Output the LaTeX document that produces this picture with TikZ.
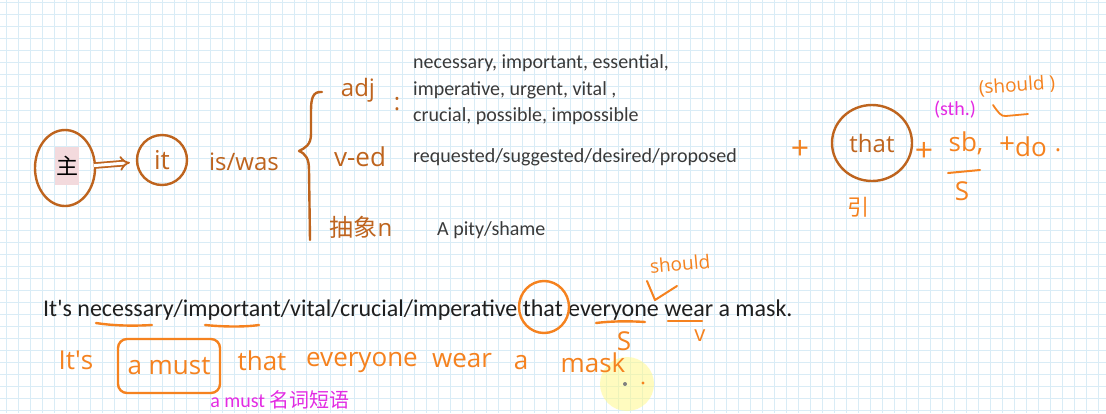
\documentclass[tikz,border=0pt]{standalone}
\usepackage{fontspec}
\setmainfont{Carlito}
\newfontfamily\handfont{Open Sans}
\newfontfamily\cjkfont{Noto Sans CJK SC}
\usetikzlibrary{shapes.geometric,arrows.meta}
\definecolor{gridblue}{HTML}{D9ECF6}
\definecolor{brownink}{HTML}{BE641E}
\definecolor{orangeink}{HTML}{F5821F}
\definecolor{magentaink}{HTML}{E32BE3}
\definecolor{typedgrey}{HTML}{3A3A3A}
\definecolor{hilite}{HTML}{F3DADD}
\tikzset{
  brownpen/.style={draw=brownink, line width=2.4pt, line cap=round, line join=round},
  orangepen/.style={draw=orangeink, line width=2.4pt, line cap=round, line join=round},
  brownword/.style={text=brownink, font=\handfont\fontsize{24}{24}\selectfont, inner sep=0pt},
  orangeword/.style={text=orangeink, font=\handfont\fontsize{24}{24}\selectfont, inner sep=0pt},
  plussign/.style={text=orangeink, font=\handfont\fontsize{32}{32}\selectfont, inner sep=0pt},
  typed/.style={text=typedgrey, font=\fontsize{20}{20}\selectfont, anchor=west, inner sep=0pt},
  note/.style={text=magentaink, font=\fontsize{20}{20}\selectfont, inner sep=0pt}
}
\begin{document}
\begin{tikzpicture}[x=1pt,y=-1pt]
  \useasboundingbox (0,0) rectangle (1106,413);
  \fill[white] (0,0) rectangle (1106,413);
  % squared paper
  \foreach \gx in {0,...,91} \draw[gridblue, line width=0.8pt] (6+12*\gx,0) -- (6+12*\gx,413);
  \foreach \gy in {0,...,34} \draw[gridblue, line width=0.8pt] (0,2+12*\gy) -- (1106,2+12*\gy);

  % subject -> it
  \node[fill=hilite, text=black, font=\cjkfont\fontsize{22}{22}\selectfont, inner sep=1pt, minimum height=38] (zhu) at (67,166) {主};
  \node[ellipse, brownpen, minimum width=60, minimum height=76] (zhuring) at (65,168) {};
  \node[circle, brownpen, brownword, font=\handfont\fontsize{26}{26}\selectfont, minimum size=50] (itring) at (162,160) {it};
  \draw[brownink, line width=1.8pt, double=white, double distance=3pt, -{Implies}, shorten <=-2pt, shorten >=6pt] (zhuring) -- (itring);
  \node[brownword] (iswas) at (244,162) {is/was};

  % brace
  \draw[brownpen] (322,92) .. controls (312,91) and (311,100) .. (311,112) -- (311,134)
    .. controls (311,145) and (305,148) .. (299,151) .. controls (306,154) and (309,159) .. (309,170) -- (310,240);
  \node[brownword] (adj) at (358,90) {adj};
  \node[brownword] (colon) at (397,104) {:};
  \node[brownword, font=\handfont\fontsize{26}{26}\selectfont] (ved) at (360,157) {v-ed};
  \node[brownword] (absn) at (361,227) {{\cjkfont 抽象}n};

  % typed lists
  \node[typed] (adjA) at (413,63) {necessary, important, essential,};
  \node[typed] (adjB) at (413,90) {imperative, urgent, vital ,};
  \node[typed] (adjC) at (413,116) {crucial, possible, impossible};
  \node[typed] (vedA) at (413,157) {requested/suggested/desired/proposed};
  \node[typed] (nounA) at (437,230) {A pity/shame};

  % + that + sb. + do
  \node[plussign] (plusA) at (800,150) {+};
  \node[ellipse, brownpen, brownword, minimum width=80, minimum height=76] (thatring) at (872,143) {that};
  \node[orangeword, font=\cjkfont\fontsize{22}{22}\selectfont] (yin) at (858,207) {引};
  \node[plussign] (plusB) at (924,152) {+};
  \node[note] (sth) at (955,110) {(sth.)};
  \node[orangeword, font=\handfont\fontsize{19}{19}\selectfont, rotate=4] (shouldA) at (1017,86) {(should )};
  \draw[orangepen, line width=1.8pt] (993,105) .. controls (998,112) and (1001,117) .. (1006,116) -- (1028,114);
  \node[orangeword, font=\handfont\fontsize{26}{26}\selectfont] (sb) at (966,143) {sb,};
  \node[plussign, font=\handfont\fontsize{28}{28}\selectfont] (plusC) at (1007,145) {+};
  \node[orangeword, font=\handfont\fontsize{26}{26}\selectfont] (do) at (1031,147) {do};
  \node[orangeword] (stop) at (1058,150) {.};
  \draw[orangepen, line width=2pt] (948,173) -- (980,170);
  \node[orangeword, font=\handfont\fontsize{26}{26}\selectfont] (subjS) at (962,191) {S};

  % example sentence
  \node[anchor=base west, text=black!88, font=\fontsize{24}{24}\selectfont, inner sep=0pt] (sentence) at (43,316)
    {It\textquotesingle s necessary/important/vital/crucial/imperative that everyone wear a mask.};
  \draw[orangepen] (96,323) .. controls (115,326) and (135,326) .. (152,325);
  \draw[orangepen] (205,325) .. controls (225,327) and (245,327) .. (259,325);
  \node[ellipse, orangepen, minimum width=50, minimum height=52] (thatcirc) at (544,307) {};
  \node[orangeword, font=\handfont\fontsize{19}{19}\selectfont, rotate=5] (shouldB) at (680,264) {should};
  \draw[orangepen, line width=2pt] (647,281) -- (655,300) -- (677,286);
  \draw[orangepen] (596,323) .. controls (612,321) and (630,321) .. (645,322);
  \node[orangeword, font=\handfont\fontsize{26}{26}\selectfont] (subjB) at (624,341) {S};
  \draw[orangepen] (668,321) -- (702,321);
  \node[orangeword, font=\handfont\fontsize{22}{22}\selectfont] (verbB) at (700,336) {v};

  % rewritten sentence
  \fill[yellow!45, opacity=0.55] (627,384) circle (27);
  \node[orangeword, font=\handfont\fontsize{26}{26}\selectfont] (itsB) at (76,360) {It\textquotesingle s};
  \node[draw=orangeink, line width=2.4pt, rounded corners=9pt, orangeword, font=\handfont\fontsize{26}{26}\selectfont, minimum width=102, minimum height=54] (mustbox) at (169,366) {a must};
  \node[orangeword, font=\handfont\fontsize{26}{26}\selectfont] (thatB) at (262,361) {that};
  \node[orangeword, font=\handfont\fontsize{26}{26}\selectfont] (everyB) at (362,363) {everyone};
  \node[orangeword, font=\handfont\fontsize{26}{26}\selectfont] (wearB) at (462,361) {wear};
  \node[orangeword, font=\handfont\fontsize{26}{26}\selectfont] (aB) at (521,363) {a};
  \node[orangeword, font=\handfont\fontsize{26}{26}\selectfont] (maskB) at (593,363) {mask};
  \fill[gray] (625,384) circle (2);
  \fill[orangeink] (643,383) circle (1.6);
  \node[note] (mustnote) at (280,400) {a must {\cjkfont 名词短语}};
\end{tikzpicture}
\end{document}
